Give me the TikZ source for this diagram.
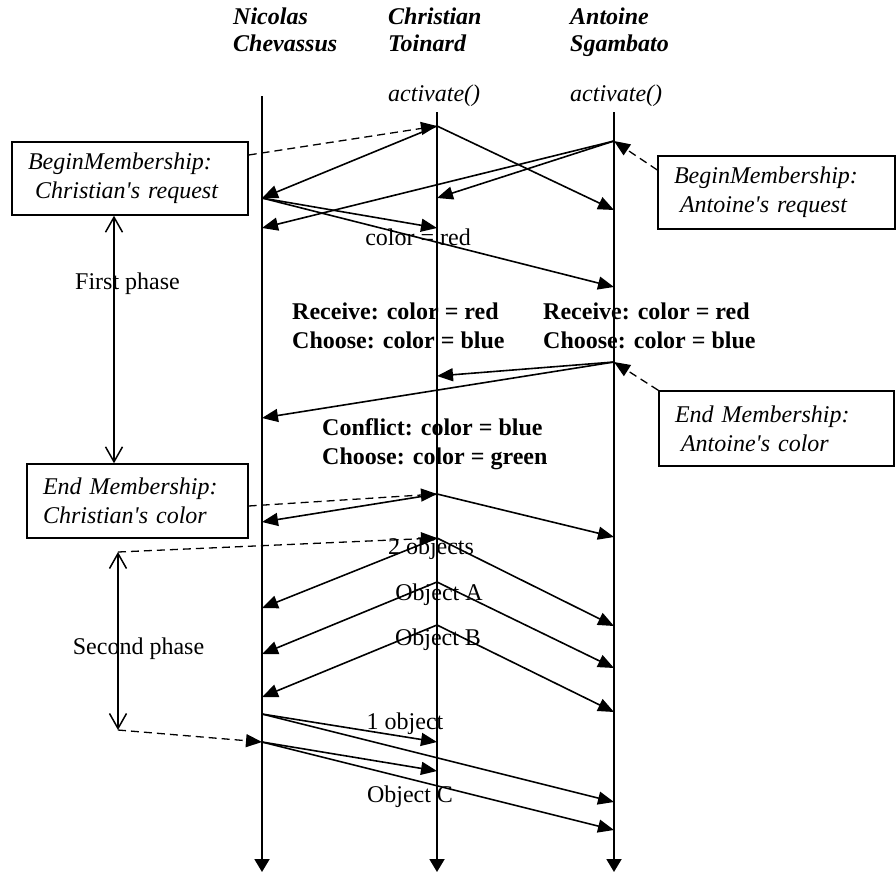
\documentclass[tikz,border=0pt]{standalone}
\usepackage{fontspec}
\setmainfont{Liberation Serif}
\usetikzlibrary{arrows.meta}
\begin{document}
\begin{tikzpicture}[x=1pt,y=-1pt,
  font=\fontsize{24}{29}\selectfont,
  lifeline/.style={line width=1.9pt,-{Triangle[length=13pt,width=15pt]}},
  msg/.style={line width=1.6pt,-{Triangle[length=16pt,width=13pt]}},
  note/.style={line width=1.3pt,dash pattern=on 8pt off 5pt,-{Triangle[length=16pt,width=13pt]}},
  phase/.style={line width=1.5pt,{Straight Barb[length=15pt,width=17pt]}-{Straight Barb[length=15pt,width=17pt]}},
  memo/.style={draw,line width=1.4pt,align=left,inner xsep=16pt,inner ysep=0pt,
    font=\fontsize{24}{29}\selectfont\itshape},
  head/.style={align=left,inner sep=0pt,anchor=west,
    font=\fontsize{24}{27}\selectfont\bfseries\itshape},
  act/.style={inner sep=0pt,anchor=west,font=\fontsize{24}{29}\selectfont\itshape},
  boldtxt/.style={align=left,inner sep=0pt,anchor=west,font=\fontsize{24}{29}\selectfont\bfseries},
  lbl/.style={inner sep=0pt}
]
\useasboundingbox (0,0) rectangle (896,873);

% headers
\node[head] (hN) at (233,30) {Nicolas\\Chevassus};
\node[head] (hC) at (388,30) {Christian\\Toinard};
\node[head] (hA) at (570,32) {Antoine\\Sgambato};
\node[act] (actC) at (388,96) {activate()};
\node[act] (actA) at (570,96) {activate()};

% lifelines
\coordinate (nT) at (262,96);  \coordinate (nB) at (262,872);
\coordinate (cT) at (437,112); \coordinate (cB) at (437,872);
\coordinate (aT) at (614,112); \coordinate (aB) at (614,872);
\draw[lifeline] (nT) -- (nB);
\draw[lifeline] (cT) -- (cB);
\draw[lifeline] (aT) -- (aB);

% message points
\coordinate (c1) at (437,126); \coordinate (n1) at (262,198); \coordinate (a1) at (614,210);
\coordinate (a0) at (614,141); \coordinate (c2) at (437,198); \coordinate (n2) at (262,228);
\coordinate (c3) at (437,228); \coordinate (a3) at (614,287);
\coordinate (a4) at (614,362); \coordinate (c4) at (437,376); \coordinate (n4) at (262,418);
\coordinate (c5) at (437,494); \coordinate (n5) at (262,522); \coordinate (a5) at (614,537);
\coordinate (c6) at (437,538); \coordinate (n6) at (262,608); \coordinate (a6) at (614,626);
\coordinate (c7) at (437,582); \coordinate (n7) at (262,654); \coordinate (a7) at (614,668);
\coordinate (c8) at (437,625); \coordinate (n8) at (262,697); \coordinate (a8) at (614,712);
\coordinate (n9) at (262,714); \coordinate (c9) at (437,742); \coordinate (a9) at (614,802);
\coordinate (n10) at (262,742); \coordinate (c10) at (437,771); \coordinate (a10) at (614,830);
\coordinate (p1) at (118,552); \coordinate (p2) at (118,730);

% notes
\node[memo,text width=204pt,minimum height=73pt] (b1) at (130,178.5)
  {BeginMembership:\\\hspace*{7pt}Christian\textquotesingle s request};
\node[memo,text width=189pt,minimum height=74pt] (b2) at (137.5,501)
  {End Membership:\\Christian\textquotesingle s color};
\node[memo,text width=205pt,minimum height=73pt] (b3) at (776.5,192.5)
  {BeginMembership:\\\hspace*{6pt}Antoine\textquotesingle s request};
\node[memo,text width=203pt,minimum height=75pt] (b4) at (776.5,428.5)
  {End Membership:\\\hspace*{6pt}Antoine\textquotesingle s color};

% messages
\draw[msg] (c1) -- (n1);
\draw[msg] (c1) -- (a1);
\draw[msg] (a0) -- (c2);
\draw[msg] (a0) -- (n2);
\draw[msg] (n1) -- (c3);
\draw[msg] (n1) -- (a3);
\draw[msg] (a4) -- (c4);
\draw[msg] (a4) -- (n4);
\draw[msg] (c5) -- (n5);
\draw[msg] (c5) -- (a5);
\draw[msg] (c6) -- (n6);
\draw[msg] (c6) -- (a6);
\draw[msg] (c7) -- (n7);
\draw[msg] (c7) -- (a7);
\draw[msg] (c8) -- (n8);
\draw[msg] (c8) -- (a8);
\draw[msg] (n9) -- (c9);
\draw[msg] (n9) -- (a9);
\draw[msg] (n10) -- (c10);
\draw[msg] (n10) -- (a10);

% dashed note connectors
\draw[note] ([yshift=23.5pt]b1.east) -- (c1);
\draw[note] ([yshift=22.5pt]b3.west) -- (a0);
\draw[note] (b4.north west) -- (a4);
\draw[note] ([yshift=-5pt]b2.east) -- (c5);
\draw[note] (p1) -- (c6);
\draw[note] (p2) -- (n10);

% phases
\draw[phase] ([xshift=-16pt]b1.south) -- ([xshift=-16pt]b1.south |- b2.north);
\draw[phase] (p1) -- (p2);
\node[lbl] (ph1) at (127.5,284) {First phase};
\node[lbl] (ph2) at (138.5,649) {Second phase};

% labels
\node[lbl] (lred) at (418,237) {color = red};
\node[boldtxt] (rc1) at (292,325.5) {Receive: color = red\\Choose: color = blue};
\node[boldtxt] (rc2) at (543,325.5) {Receive: color = red\\Choose: color = blue};
\node[boldtxt] (cf) at (322,444.5) {Conflict: color = blue\\Choose: color = green};
\node[lbl] (l2o) at (431,549) {2 objects};
\node[lbl] (lA) at (439,595) {Object A};
\node[lbl] (lB) at (438,640) {Object B};
\node[lbl] (l1o) at (405,724) {1 object};
\node[lbl] (lC) at (410,797) {Object C};
\end{tikzpicture}
\end{document}
